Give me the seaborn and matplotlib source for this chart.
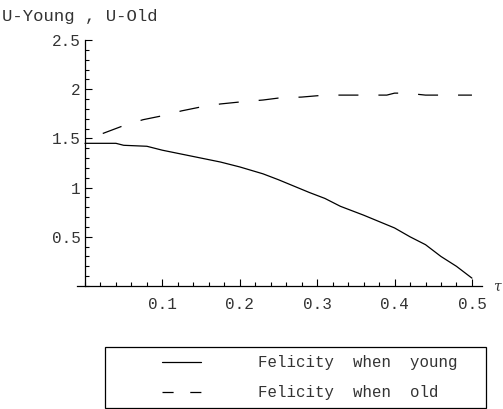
import matplotlib
matplotlib.use("Agg")
import matplotlib.pyplot as plt
import matplotlib.patches as mpatches
from matplotlib.lines import Line2D
from matplotlib.ticker import MultipleLocator, FixedLocator
import seaborn as sns
import pandas as pd

# ---- data ----
tau_young = [0.0, 0.03, 0.04, 0.05, 0.08, 0.10, 0.125, 0.15, 0.175, 0.20, 0.23, 0.25,
             0.29, 0.31, 0.33, 0.36, 0.40, 0.42, 0.44, 0.46, 0.48, 0.50]
u_young = [1.45, 1.45, 1.45, 1.43, 1.42, 1.38, 1.34, 1.30, 1.26, 1.21, 1.14, 1.08,
           0.95, 0.89, 0.81, 0.72, 0.59, 0.50, 0.42, 0.30, 0.20, 0.08]

tau_old = [0.023, 0.05, 0.075, 0.10, 0.125, 0.15, 0.175, 0.20, 0.23, 0.25, 0.28, 0.31,
           0.35, 0.39, 0.40, 0.415, 0.44, 0.47, 0.50]
u_old = [1.55, 1.63, 1.69, 1.73, 1.78, 1.82, 1.85, 1.87, 1.89, 1.91, 1.92, 1.94,
         1.94, 1.94, 1.96, 1.96, 1.94, 1.94, 1.94]

x_ticks = [0.1, 0.2, 0.3, 0.4, 0.5]
x_ticklabels = ["0.1", "0.2", "0.3", "0.4", "0.5"]
y_ticks = [0.5, 1.0, 1.5, 2.0, 2.5]
y_ticklabels = ["0.5", "1", "1.5", "2", "2.5"]
legend_labels = ["Felicity  when  young", "Felicity  when  old"]
y_title = "U-Young , U-Old"
x_title = "\u03c4"

sns.set_style("white")
plt.rcParams["font.family"] = ["Liberation Mono", "DejaVu Sans"]
plt.rcParams["lines.scale_dashes"] = False

W, H = 503, 409
fig = plt.figure(figsize=(W / 100, H / 100), dpi=100)
ax = fig.add_axes([77 / W, (H - 286) / H, 405 / W, 246 / H])

df_y = pd.DataFrame({"tau": tau_young, "U": u_young})
df_o = pd.DataFrame({"tau": tau_old, "U": u_old})
sns.lineplot(data=df_y, x="tau", y="U", ax=ax, color="black", lw=0.9)
sns.lineplot(data=df_o, x="tau", y="U", ax=ax, color="black", lw=0.9,
             linestyle=(0, (14.4, 14.4)))

ax.set_xlim(-0.0103, 0.513)
ax.set_ylim(0, 2.5)
for s in ["top", "right"]:
    ax.spines[s].set_visible(False)
ax.spines["left"].set_position(("data", 0))
ax.spines["left"].set_bounds(0, 2.5)
for s in ["left", "bottom"]:
    ax.spines[s].set_color("black")
    ax.spines[s].set_linewidth(0.9)

ax.xaxis.set_major_locator(FixedLocator(x_ticks))
ax.set_xticklabels(x_ticklabels)
ax.yaxis.set_major_locator(FixedLocator(y_ticks))
ax.set_yticklabels(y_ticklabels)
ax.xaxis.set_minor_locator(MultipleLocator(0.02))
ax.yaxis.set_minor_locator(MultipleLocator(0.1))
ax.tick_params(which="both", direction="in", color="black", width=0.8,
               bottom=True, left=True, top=False, right=False)
ax.tick_params(which="major", length=5, labelsize=11.5, labelcolor="#333333")
ax.tick_params(which="minor", length=3)
ax.tick_params(axis="x", which="major", pad=8)
ax.tick_params(axis="y", which="major", pad=3)
ax.set_xlabel("")
ax.set_ylabel("")

fig.text(2 / W, (H - 21) / H, y_title, fontsize=12.4, color="#333333",
         ha="left", va="baseline")
fig.text(497 / W, (H - 287) / H, x_title, fontsize=10, color="#333333",
         family="DejaVu Serif", style="italic", ha="center", va="center")

handles = [Line2D([], [], color="black", lw=0.9),
           Line2D([], [], color="black", lw=0.9, linestyle=(0, (8, 12)))]
fig.legend(handles, legend_labels, loc="upper left",
           bbox_to_anchor=(154 / W, (H - 347.5) / H), bbox_transform=fig.transFigure,
           frameon=False, borderpad=0, handlelength=2.5, handletextpad=3.6,
           labelspacing=0.95, prop={"size": 11.3}, labelcolor="#333333")
fig.add_artist(mpatches.Rectangle((105 / W, 1.5 / H), 381 / W, 61 / H,
                                  transform=fig.transFigure, fill=False,
                                  edgecolor="black", lw=0.9))

fig.savefig("out.png", dpi=100)
